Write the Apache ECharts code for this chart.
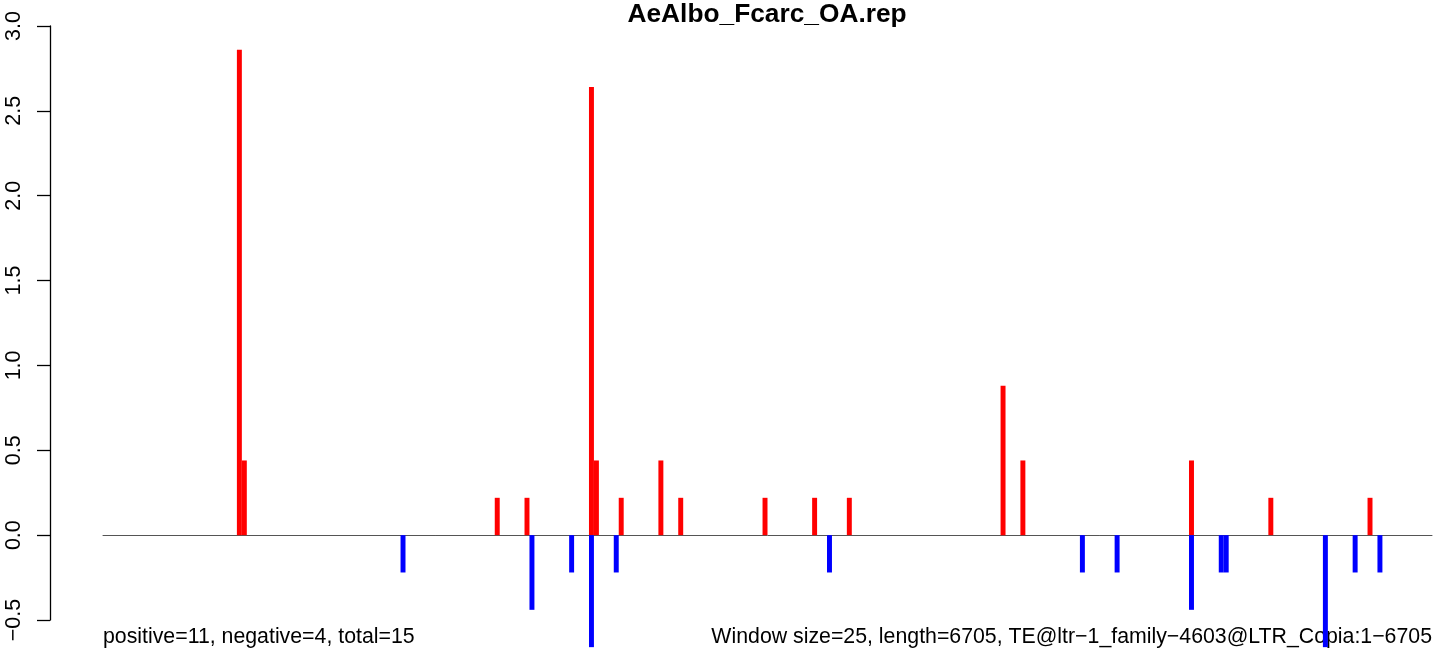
<!DOCTYPE html>
<html>
<head>
<meta charset="utf-8">
<script src="https://cdn.jsdelivr.net/npm/echarts@6/dist/echarts.min.js"></script>
<style>
html,body{margin:0;padding:0;background:#fff;}
#chart{width:1444px;height:659px;}
</style>
</head>
<body>
<div id="chart"></div>
<script>
// ---- data ----
const windowSize = 25;
const seqLength = 6705;
const windowCount = 268;
// window index (0-based) and value of positive (red) windows
const posIdx = [27, 28, 79, 85, 98, 99, 104, 112, 116, 133, 143, 150, 181, 185, 219, 235, 255];
const posVal = [2.86, 0.44, 0.22, 0.22, 2.64, 0.44, 0.22, 0.44, 0.22, 0.22, 0.22, 0.22, 0.88, 0.44, 0.44, 0.22, 0.22];
// window index and value of negative (blue) windows
const negIdx = [60, 86, 94, 98, 103, 146, 197, 204, 219, 225, 226, 246, 252, 257];
const negVal = [-0.22, -0.44, -0.22, -0.66, -0.22, -0.22, -0.22, -0.22, -0.44, -0.22, -0.22, -0.66, -0.22, -0.22];
const yTicks = [-0.5, 0.0, 0.5, 1.0, 1.5, 2.0, 2.5, 3.0];
const titleText = 'AeAlbo_Fcarc_OA.rep';
const leftNote = 'positive=11, negative=4, total=15';
const rightNote = 'Window size=25, length=6705, TE@ltr\u22121_family\u22124603@LTR_Copia:1\u22126705';

// ---- build ----
const categories = [];
for (let i = 0; i < windowCount; i++) categories.push(String(i * windowSize + 1));
const posData = new Array(windowCount).fill(null);
posIdx.forEach((k, j) => { posData[k] = posVal[j]; });
const negData = new Array(windowCount).fill(null);
negIdx.forEach((k, j) => { negData[k] = negVal[j]; });

const FONT = "'Liberation Sans', Arial, Helvetica, sans-serif";
const chart = echarts.init(document.getElementById('chart'), null, {renderer: 'canvas'});
const gridLeft = 103, gridRight = 12, gridTop = 26, gridBottom = 39;
const plotCenter = gridLeft + (1444 - gridLeft - gridRight) / 2;

chart.setOption({
  animation: false,
  backgroundColor: '#ffffff',
  grid: {left: gridLeft, right: gridRight, top: gridTop, bottom: gridBottom, containLabel: false},
  xAxis: {
    type: 'category',
    data: categories,
    boundaryGap: true,
    axisLine: {show: true, onZero: true, lineStyle: {color: '#555555', width: 1}},
    axisTick: {show: false},
    axisLabel: {show: false},
    splitLine: {show: false}
  },
  yAxis: {
    type: 'value',
    min: yTicks[0],
    max: yTicks[yTicks.length - 1],
    interval: 0.5,
    offset: 53,
    axisLine: {show: true, lineStyle: {color: '#000000', width: 1.3}},
    axisTick: {show: true, length: 13, lineStyle: {color: '#000000', width: 1.3}},
    axisLabel: {
      show: true, rotate: 90, margin: 25,
      fontFamily: FONT, fontSize: 21.5, color: '#000000',
      formatter: v => (v < 0 ? '\u2212' : '') + Math.abs(v).toFixed(1)
    },
    splitLine: {show: false}
  },
  series: [
    {
      type: 'bar', name: 'positive', data: posData, clip: false,
      barWidth: '100%', barGap: '-100%',
      itemStyle: {color: '#ff0000'}
    },
    {
      type: 'bar', name: 'negative', data: negData, clip: false,
      barWidth: '100%', barGap: '-100%',
      itemStyle: {color: '#0000ff'}
    }
  ],
  graphic: [
    {type: 'text', left: plotCenter - 140, top: 2, style: {text: titleText, font: "bold 26.3px " + FONT, fill: '#000'}},
    {type: 'text', left: gridLeft, top: 627, style: {text: leftNote, font: "21.3px " + FONT, fill: '#000'}},
    {type: 'text', right: gridRight, top: 627, style: {text: rightNote, font: "21.3px " + FONT, fill: '#000'}}
  ]
});
</script>
</body>
</html>
